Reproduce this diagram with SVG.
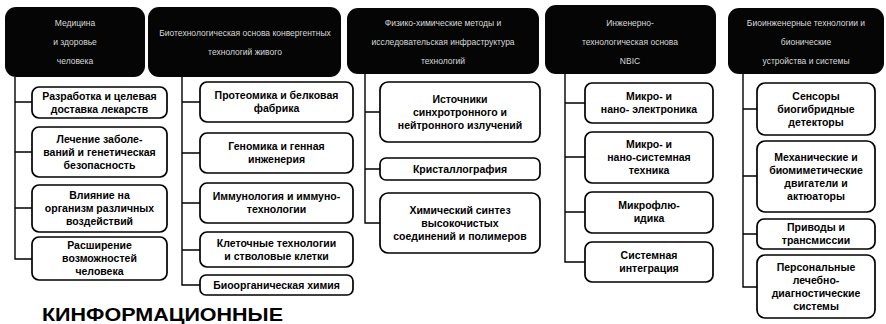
<svg xmlns="http://www.w3.org/2000/svg" width="886" height="324" viewBox="0 0 886 324">
<style>
.h{fill:#050505;}
.ht{fill:#d8d8d8;font-family:"Liberation Sans",Arial,sans-serif;font-size:8.5px;text-anchor:middle;}
.n{fill:#fff;stroke:#000;stroke-width:1.7;}
.t{fill:#000;font-family:"Liberation Sans",Arial,sans-serif;font-weight:bold;font-size:10.5px;text-anchor:middle;}
.c{fill:none;stroke:#000;stroke-width:1.4;}
.big{fill:#000;font-family:"Liberation Sans",Arial,sans-serif;font-weight:bold;font-size:18px;}
</style>
<rect width="886" height="324" fill="#fff"/>
<g id="connectors">
<path class="c" d="M15,77 V259 H32 M15,102 H32 M15,152 H32 M15,208 H32"/>
<path class="c" d="M182,77 V285 H200 M182,102 H200 M182,153 H200 M182,203 H200 M182,250 H200"/>
<path class="c" d="M365,74 V223 H380 M365,112 H380 M365,169 H380"/>
<path class="c" d="M565,74 V262 H585 M565,103 H585 M565,157 H585 M565,212 H585"/>
<path class="c" d="M743,74 V287 H757 M743,109 H757 M743,176 H757 M743,234 H757"/>
</g>
<g id="h1"><rect class="h" x="5" y="7" width="140" height="70" rx="11"/>
<text class="ht" x="75" y="26">Медицина</text><text class="ht" x="75" y="45">и здоровье</text><text class="ht" x="75" y="64">человека</text></g>
<g id="h2"><rect class="h" x="148" y="7" width="193" height="70" rx="11"/>
<text class="ht" x="245" y="36">Биотехнологическая основа конвергентных</text><text class="ht" x="245" y="55">технологий живого</text></g>
<g id="h3"><rect class="h" x="347" y="8" width="192" height="66" rx="11"/>
<text class="ht" x="443" y="26">Физико-химические методы и</text><text class="ht" x="443" y="45">исследовательская инфраструктура</text><text class="ht" x="443" y="64">технологий</text></g>
<g id="h4"><rect class="h" x="545" y="5" width="171" height="69" rx="11"/>
<text class="ht" x="630" y="26">Инженерно-</text><text class="ht" x="630" y="45">технологическая основа</text><text class="ht" x="630" y="64">NBIC</text></g>
<g id="h5"><rect class="h" x="728" y="8" width="156" height="66" rx="11"/>
<text class="ht" x="806" y="26">Биоинженерные технологии и</text><text class="ht" x="806" y="45">бионические</text><text class="ht" x="806" y="64">устройства и системы</text></g>

<g id="c1n1"><rect class="n" x="32" y="87" width="135" height="31" rx="7"/>
<text class="t" x="99.5" y="100">Разработка и целевая</text><text class="t" x="99.5" y="113">доставка лекарств</text></g>
<g id="c1n2"><rect class="n" x="32" y="127" width="135" height="50" rx="7"/>
<text class="t" x="99.5" y="143">Лечение заболе-</text><text class="t" x="99.5" y="156">ваний и генетическая</text><text class="t" x="99.5" y="169">безопасность</text></g>
<g id="c1n3"><rect class="n" x="32" y="185" width="135" height="47" rx="7"/>
<text class="t" x="99.5" y="199">Влияние на</text><text class="t" x="99.5" y="212">организм различных</text><text class="t" x="99.5" y="225">воздействий</text></g>
<g id="c1n4"><rect class="n" x="32" y="237" width="135" height="43" rx="7"/>
<text class="t" x="99.5" y="249">Расширение</text><text class="t" x="99.5" y="262">возможностей</text><text class="t" x="99.5" y="275">человека</text></g>

<g id="c2n1"><rect class="n" x="200" y="82" width="153" height="40" rx="7"/>
<text class="t" x="276.5" y="99">Протеомика и белковая</text><text class="t" x="276.5" y="112">фабрика</text></g>
<g id="c2n2"><rect class="n" x="200" y="133" width="153" height="40" rx="7"/>
<text class="t" x="276.5" y="150">Геномика и генная</text><text class="t" x="276.5" y="163">инженерия</text></g>
<g id="c2n3"><rect class="n" x="200" y="183" width="153" height="40" rx="7"/>
<text class="t" x="276.5" y="200">Иммунология и иммуно-</text><text class="t" x="276.5" y="213">технологии</text></g>
<g id="c2n4"><rect class="n" x="200" y="232" width="153" height="35" rx="7"/>
<text class="t" x="276.5" y="247">Клеточные технологии</text><text class="t" x="276.5" y="260">и стволовые клетки</text></g>
<g id="c2n5"><rect class="n" x="200" y="275" width="153" height="20" rx="6"/>
<text class="t" x="276.5" y="289">Биоорганическая химия</text></g>

<g id="c3n1"><rect class="n" x="380" y="82" width="160" height="60" rx="8"/>
<text class="t" x="460" y="103">Источники</text><text class="t" x="460" y="116">синхротронного и</text><text class="t" x="460" y="129">нейтронного излучений</text></g>
<g id="c3n2"><rect class="n" x="380" y="158" width="160" height="22" rx="6"/>
<text class="t" x="460" y="173">Кристаллография</text></g>
<g id="c3n3"><rect class="n" x="380" y="193" width="160" height="60" rx="8"/>
<text class="t" x="460" y="214">Химический синтез</text><text class="t" x="460" y="227">высокочистых</text><text class="t" x="460" y="240">соединений и полимеров</text></g>

<g id="c4n1"><rect class="n" x="585" y="83" width="128" height="40" rx="7"/>
<text class="t" x="649" y="100">Микро- и</text><text class="t" x="649" y="113">нано- электроника</text></g>
<g id="c4n2"><rect class="n" x="585" y="132" width="128" height="51" rx="7"/>
<text class="t" x="649" y="148">Микро- и</text><text class="t" x="649" y="161">нано-системная</text><text class="t" x="649" y="174">техника</text></g>
<g id="c4n3"><rect class="n" x="585" y="192" width="128" height="41" rx="7"/>
<text class="t" x="649" y="209">Микрофлю-</text><text class="t" x="649" y="222">идика</text></g>
<g id="c4n4"><rect class="n" x="585" y="242" width="128" height="40" rx="7"/>
<text class="t" x="649" y="259">Системная</text><text class="t" x="649" y="272">интеграция</text></g>

<g id="c5n1"><rect class="n" x="757" y="83" width="118" height="52" rx="8"/>
<text class="t" x="816" y="100">Сенсоры</text><text class="t" x="816" y="113">биогибридные</text><text class="t" x="816" y="126">детекторы</text></g>
<g id="c5n2"><rect class="n" x="757" y="141" width="118" height="71" rx="8"/>
<text class="t" x="816" y="161">Механические и</text><text class="t" x="816" y="174">биомиметические</text><text class="t" x="816" y="187">двигатели и</text><text class="t" x="816" y="200">актюаторы</text></g>
<g id="c5n3"><rect class="n" x="757" y="219" width="118" height="30" rx="7"/>
<text class="t" x="816" y="231">Приводы и</text><text class="t" x="816" y="244">трансмиссии</text></g>
<g id="c5n4"><rect class="n" x="757" y="255" width="118" height="63" rx="8"/>
<text class="t" x="816" y="271">Персональные</text><text class="t" x="816" y="284">лечебно-</text><text class="t" x="816" y="297">диагностические</text><text class="t" x="816" y="310">системы</text></g>

<text class="big" x="42" y="321" textLength="241" lengthAdjust="spacingAndGlyphs">КИНФОРМАЦИОННЫЕ</text>
</svg>
